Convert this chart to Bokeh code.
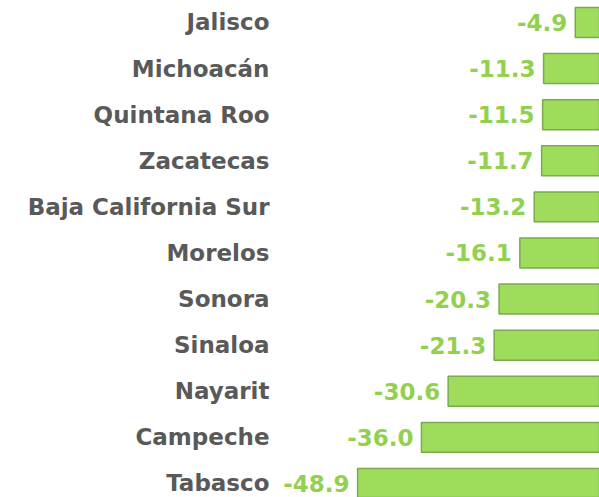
from bokeh.plotting import figure
from bokeh.models import Range1d, FixedTicker, ColumnDataSource
from bokeh.core.properties import value
from bokeh.embed import file_html
from bokeh.resources import INLINE

states = ["Jalisco", "Michoacán", "Quintana Roo", "Zacatecas", "Baja California Sur",
          "Morelos", "Sonora", "Sinaloa", "Nayarit", "Campeche", "Tabasco"]
values = [-4.9, -11.3, -11.5, -11.7, -13.2, -16.1, -20.3, -21.3, -30.6, -36.0, -48.9]
labels = ["%.1f" % v for v in values]
pos = list(range(len(states)))

src = ColumnDataSource(dict(y=pos, v=values, lab=labels, zero=[0] * len(values)))

p = figure(width=599, height=497, output_backend="svg", toolbar_location=None,
           x_range=Range1d(-65.5, 0), y_range=Range1d(10.304, -0.477),
           min_border_left=275, min_border_right=0, min_border_top=0, min_border_bottom=0)

p.hbar(y="y", left="v", right="zero", height=0.65, source=src,
       fill_color="#9fdc5c", line_color="#7aaa4c", line_width=1.5)

p.text(x="v", y="y", text="lab", source=src, x_offset=-8, text_align="right",
       text_baseline="middle", text_color="#92d050", text_font_size="23px",
       text_font=value("DejaVu Sans"), text_font_style="bold")

p.xaxis.visible = False
p.xgrid.visible = False
p.ygrid.visible = False
p.outline_line_color = None
p.yaxis.ticker = FixedTicker(ticks=pos)
p.yaxis.major_label_overrides = {i: s for i, s in zip(pos, states)}
p.yaxis.axis_line_color = None
p.yaxis.major_tick_line_color = None
p.yaxis.minor_tick_line_color = None
p.yaxis.major_label_standoff = 0
p.yaxis.major_label_text_font = "DejaVu Sans"
p.yaxis.major_label_text_font_style = "bold"
p.yaxis.major_label_text_font_size = "23px"
p.yaxis.major_label_text_color = "#595959"

open("out.html", "w").write(file_html(p, INLINE))
